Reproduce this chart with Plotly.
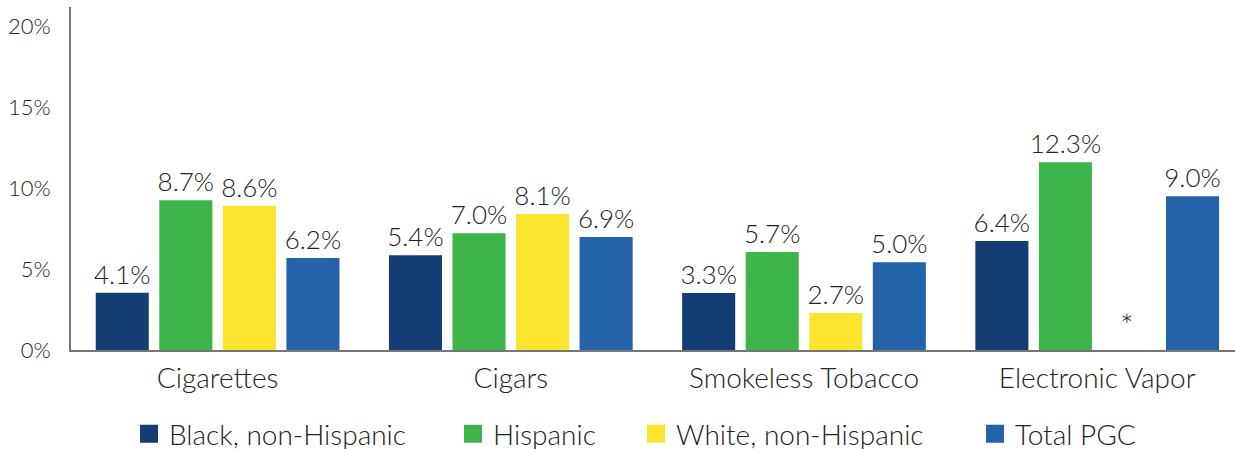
import plotly.graph_objects as go

categories = ["Cigarettes", "Cigars", "Smokeless Tobacco", "Electronic Vapor"]
series_names = ["Black, non-Hispanic", "Hispanic", "White, non-Hispanic", "Total PGC"]
# bar heights as drawn in the picture (percent)
black_vals = [3.54, 5.86, 3.52, 6.73]
hispanic_vals = [9.26, 7.22, 6.05, 11.6]
white_vals = [8.91, 8.40, 2.28, None]
total_vals = [5.68, 6.98, 5.43, 9.51]
# printed value labels
black_labels = ["4.1%", "5.4%", "3.3%", "6.4%"]
hispanic_labels = ["8.7%", "7.0%", "5.7%", "12.3%"]
white_labels = ["8.6%", "8.1%", "2.7%", ""]
total_labels = ["6.2%", "6.9%", "5.0%", "9.0%"]
suppressed_note = "*"
tick_vals = [0, 5, 10, 15, 20]
tick_text = ["0%", "5%", "10%", "15%", "20%"]

colors = ["#143D73", "#3DB54A", "#FCE42F", "#2462AA"]
FONT = "Lato Light, Lato"
TXT = "#222222"

fig = go.Figure()
vals = [black_vals, hispanic_vals, white_vals, total_vals]
labs = [black_labels, hispanic_labels, white_labels, total_labels]
legend_ids = ["legend", "legend2", "legend3", "legend4"]
for name, v, l, c, lg in zip(series_names, vals, labs, colors, legend_ids):
    fig.add_trace(go.Bar(
        x=categories, y=v, name=name, text=l,
        textposition="outside", constraintext="none", cliponaxis=False,
        textfont=dict(size=26, color=TXT, family=FONT, weight=300),
        marker=dict(color=c, line=dict(width=0)),
        legendgroup=name, showlegend=False,
    ))
# legend entries (square swatches) for each series
for name, c, lg in zip(series_names, colors, legend_ids):
    fig.add_trace(go.Scatter(
        x=[None], y=[None], mode="markers", name=name,
        marker=dict(symbol="square", size=16, color=c, line=dict(width=2, color=c)),
        legendgroup=name, legend=lg, showlegend=True, hoverinfo="skip",
    ))

fig.add_annotation(x=categories[3], y=1.55, text=suppressed_note, showarrow=False,
                   xshift=30, font=dict(size=32, color=TXT, family=FONT, weight=300))

FIG_W, FIG_H = 1235.0, 449.0
legend_px = [129, 453, 636, 975]
legend_x = [p / FIG_W for p in legend_px]
legend_common = dict(orientation="h", yref="container", xref="container",
                     yanchor="middle", y=1 - 434 / FIG_H, xanchor="left",
                     itemsizing="trace",
                     font=dict(size=28, color=TXT, family=FONT, weight=300),
                     bgcolor="rgba(0,0,0,0)")

fig.update_layout(
    width=FIG_W, height=FIG_H,
    margin=dict(l=71, r=0, t=7, b=99, autoexpand=False),
    paper_bgcolor="white", plot_bgcolor="white",
    barmode="group", bargap=0.133, bargroupgap=0.165,
    showlegend=True,
    font=dict(family=FONT, color=TXT, weight=300),
    xaxis=dict(type="category", range=[-0.5, 3.47], showline=True, linecolor="#767676",
               linewidth=2, ticks="outside", ticklen=2, tickcolor="rgba(0,0,0,0)",
               tickfont=dict(size=28, color=TXT, family=FONT, weight=300), showgrid=False,
               automargin=False),
    yaxis=dict(range=[0, 21.2], tickvals=tick_vals, ticktext=tick_text, showgrid=False,
               zeroline=False, showline=True, linecolor="#767676", linewidth=2,
               ticks="outside", ticklen=14, tickcolor="rgba(0,0,0,0)",
               tickfont=dict(size=22, color=TXT, family=FONT, weight=300),
               automargin=False),
    legend=dict(x=legend_x[0], **legend_common),
    legend2=dict(x=legend_x[1], **legend_common),
    legend3=dict(x=legend_x[2], **legend_common),
    legend4=dict(x=legend_x[3], **legend_common),
)

fig.write_html("out.html", config={"displayModeBar": False},
               post_script="document.body.style.margin='0px';document.body.style.overflow='hidden';")
